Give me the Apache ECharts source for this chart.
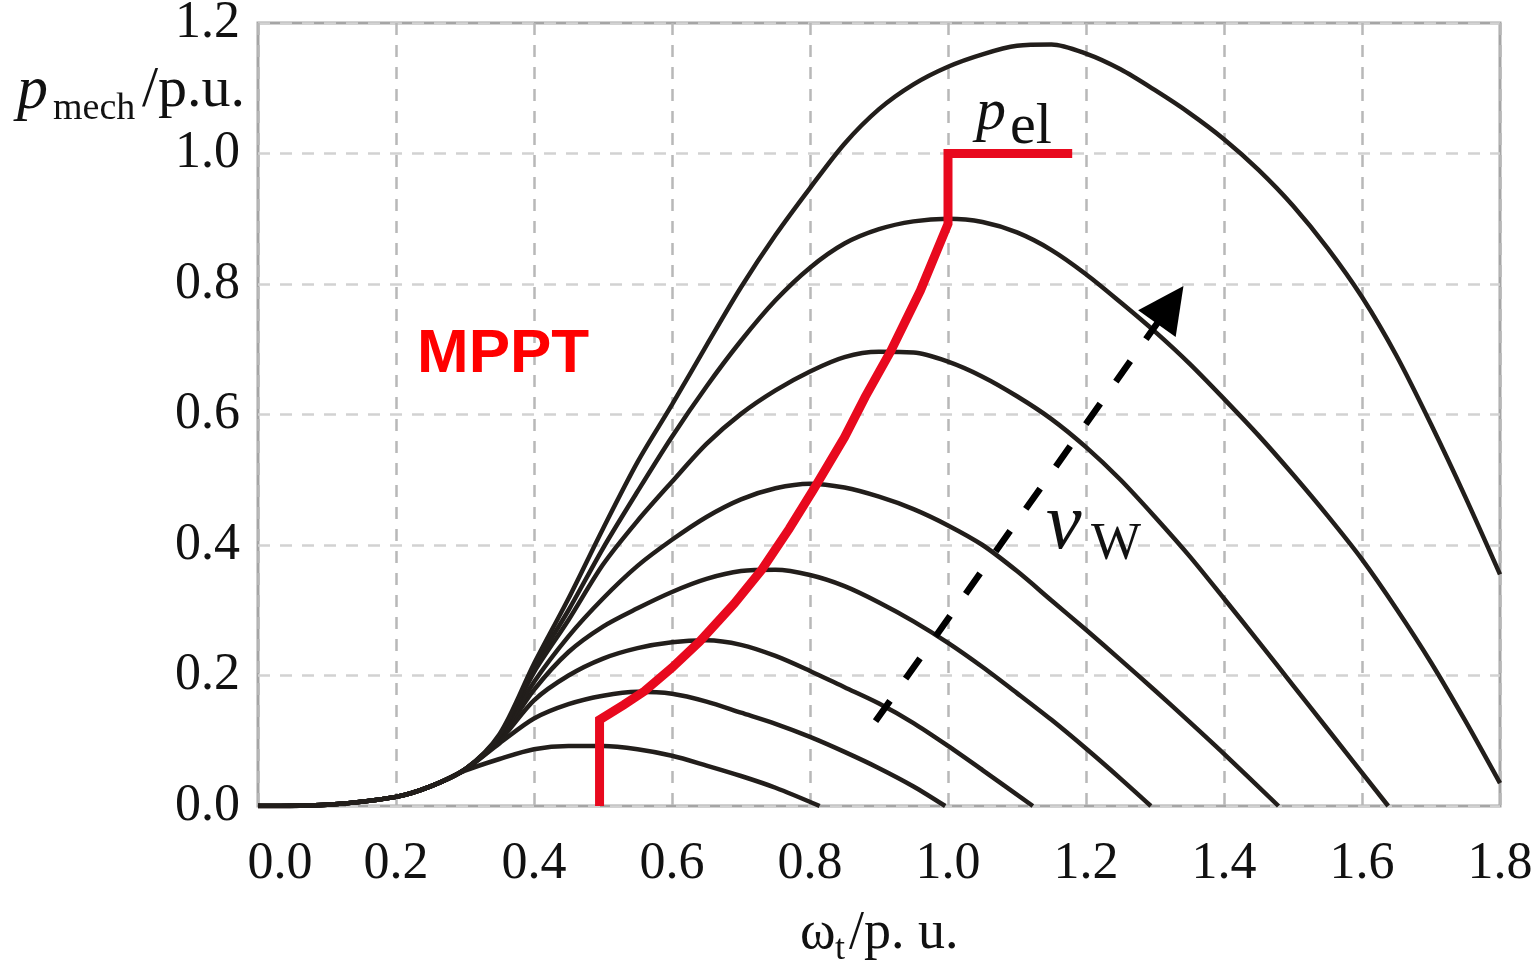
<!DOCTYPE html>
<html>
<head>
<meta charset="utf-8">
<title>MPPT</title>
<script src="https://cdn.jsdelivr.net/npm/echarts@6/dist/echarts.min.js"></script>
<style>
html, body { margin: 0; padding: 0; background: #fff; }
#chart { width: 1535px; height: 965px; }
</style>
</head>
<body>
<div id="chart"></div>
<script>
// p_mech over omega_t, one curve per wind speed (lowest to highest)
const pMech1 = [[0,0],[0.1,0.002],[0.2,0.014],[0.25,0.03],[0.3,0.054],[0.35,0.072],[0.4,0.087],[0.45,0.092],[0.5,0.092],[0.55,0.087],[0.6,0.077],[0.65,0.062],[0.7,0.046],[0.75,0.028],[0.814,0]]
const pMech2 = [[0,0],[0.1,0.002],[0.2,0.014],[0.25,0.03],[0.3,0.056],[0.35,0.096],[0.4,0.134],[0.45,0.156],[0.5,0.169],[0.55,0.175],[0.6,0.172],[0.65,0.16],[0.7,0.143],[0.75,0.126],[0.8,0.106],[0.85,0.083],[0.9,0.058],[0.95,0.03],[0.996,0]]
const pMech3 = [[0,0],[0.1,0.002],[0.2,0.014],[0.25,0.03],[0.3,0.056],[0.35,0.1],[0.4,0.162],[0.45,0.2],[0.5,0.226],[0.55,0.242],[0.6,0.251],[0.65,0.254],[0.7,0.247],[0.75,0.23],[0.8,0.207],[0.85,0.182],[0.9,0.157],[0.95,0.127],[1.0,0.092],[1.05,0.055],[1.123,0]]
const pMech4 = [[0,0],[0.1,0.002],[0.2,0.014],[0.25,0.03],[0.3,0.056],[0.35,0.103],[0.4,0.178],[0.45,0.236],[0.5,0.275],[0.55,0.303],[0.6,0.328],[0.65,0.348],[0.7,0.36],[0.75,0.362],[0.8,0.354],[0.85,0.337],[0.9,0.312],[0.95,0.283],[1.0,0.25],[1.05,0.213],[1.1,0.173],[1.15,0.132],[1.2,0.088],[1.25,0.042],[1.294,0]]
const pMech5 = [[0,0],[0.1,0.002],[0.2,0.014],[0.25,0.03],[0.3,0.056],[0.35,0.105],[0.4,0.19],[0.45,0.26],[0.5,0.318],[0.55,0.368],[0.6,0.408],[0.65,0.443],[0.7,0.47],[0.75,0.487],[0.8,0.494],[0.85,0.488],[0.9,0.474],[0.95,0.455],[1.0,0.43],[1.05,0.4],[1.1,0.36],[1.15,0.315],[1.2,0.27],[1.25,0.224],[1.3,0.177],[1.35,0.129],[1.4,0.08],[1.479,0]]
const pMech6 = [[0,0],[0.1,0.002],[0.2,0.014],[0.25,0.03],[0.3,0.056],[0.35,0.107],[0.4,0.205],[0.45,0.285],[0.5,0.37],[0.55,0.437],[0.6,0.497],[0.65,0.555],[0.7,0.601],[0.75,0.637],[0.8,0.666],[0.85,0.688],[0.9,0.696],[0.95,0.695],[1.0,0.681],[1.05,0.658],[1.1,0.628],[1.15,0.593],[1.2,0.55],[1.25,0.5],[1.3,0.443],[1.35,0.383],[1.4,0.318],[1.45,0.252],[1.5,0.185],[1.55,0.118],[1.638,0]]
const pMech7 = [[0,0],[0.1,0.002],[0.2,0.014],[0.25,0.03],[0.3,0.056],[0.35,0.108],[0.4,0.212],[0.45,0.3],[0.5,0.395],[0.55,0.482],[0.6,0.566],[0.65,0.643],[0.7,0.713],[0.75,0.775],[0.8,0.825],[0.85,0.862],[0.9,0.884],[0.95,0.896],[1.0,0.9],[1.05,0.895],[1.1,0.879],[1.15,0.852],[1.2,0.815],[1.25,0.772],[1.3,0.727],[1.35,0.678],[1.4,0.624],[1.45,0.568],[1.5,0.508],[1.55,0.445],[1.6,0.378],[1.65,0.302],[1.7,0.22],[1.75,0.13],[1.8,0.035]]
const pMech8 = [[0,0],[0.1,0.002],[0.2,0.014],[0.25,0.03],[0.3,0.056],[0.35,0.11],[0.4,0.218],[0.45,0.318],[0.5,0.425],[0.55,0.527],[0.6,0.615],[0.65,0.706],[0.7,0.795],[0.75,0.875],[0.8,0.947],[0.85,1.015],[0.9,1.068],[0.95,1.106],[1.0,1.133],[1.05,1.152],[1.1,1.165],[1.15,1.167],[1.2,1.153],[1.25,1.129],[1.3,1.097],[1.35,1.062],[1.4,1.022],[1.45,0.975],[1.5,0.92],[1.55,0.855],[1.6,0.78],[1.65,0.69],[1.7,0.585],[1.75,0.473],[1.8,0.355]]

// red MPPT track, then rated power p_el
const mpptTrack = [[0.495,0],[0.495,0.132],[0.53,0.155],[0.56,0.176],[0.6,0.212],[0.64,0.252],[0.69,0.31],[0.73,0.362],[0.77,0.425],[0.805,0.485],[0.85,0.565],[0.88,0.627],[0.917,0.697],[0.96,0.79],[1.0,0.892],[1.0,1.0],[1.18,1.0]]

// dashed arrow "wind speed rising"
const vwArrow = [[0.895,0.13],[1.322,0.768]]

const curves = [pMech1, pMech2, pMech3, pMech4, pMech5, pMech6, pMech7, pMech8]

const serif = '"Liberation Serif", "DejaVu Serif", serif'

let series = curves.map(function (d) {
    return {
        type: 'line',
        data: d,
        smooth: 0.3,
        symbol: 'none',
        silent: true,
        z: 2,
        lineStyle: { color: '#221e1b', width: 4.5 }
    }
})
series.push({
    type: 'line',
    data: mpptTrack,
    symbol: 'none',
    silent: true,
    z: 3,
    lineStyle: { color: '#e8091e', width: 9, join: 'miter', cap: 'butt' }
})
series.push({
    type: 'lines',
    coordinateSystem: 'cartesian2d',
    silent: true,
    z: 4,
    symbol: ['none', 'triangle'],
    symbolSize: [44, 46],
    data: [{ coords: vwArrow }],
    lineStyle: { color: '#000', width: 6.5, type: [25, 27], opacity: 1, cap: 'butt' }
})

function txt(x, y, text, font, color) {
    return {
        type: 'text', x: x, y: y, silent: true, z: 10,
        style: { text: text, font: font, fill: color || '#111', align: 'left', verticalAlign: 'middle', textAlign: 'left', textVerticalAlign: 'middle' }
    }
}

let option = {
    animation: false,
    backgroundColor: '#fff',
    grid: {
        left: 258, right: 35, top: 23, bottom: 159,
        show: true, borderColor: '#a5a5a5', borderWidth: 3,
        outerBoundsMode: 'none', containLabel: false
    },
    xAxis: {
        type: 'value', min: 0, max: 1.8, interval: 0.2,
        axisLine: { show: false }, axisTick: { show: false },
        splitLine: { show: true, lineStyle: { color: '#b8b8b8', width: 2.5, type: [12, 10] } },
        axisLabel: {
            margin: 32, color: '#111', fontFamily: serif, fontSize: 52,
            formatter: function (v) { return v === 0 ? '{first|0.0}' : v.toFixed(1) },
            rich: { first: { padding: [0, 0, 0, 44], color: '#111', fontFamily: serif, fontSize: 52 } }
        }
    },
    yAxis: {
        type: 'value', min: 0, max: 1.2, interval: 0.2,
        axisLine: { show: false }, axisTick: { show: false },
        splitLine: { show: true, lineStyle: { color: '#d2d2d2', width: 2.5, type: [12, 10] } },
        axisLabel: {
            margin: 18, color: '#111', fontFamily: serif, fontSize: 52,
            formatter: function (v) { return v.toFixed(1) }
        }
    },
    graphic: [
        // y axis name  p_mech/p.u.
        txt(17, 92, 'p', 'italic 62px ' + serif),
        txt(53, 109, 'mech', '38px ' + serif),
        txt(142, 91, '/p.u.', '58px ' + serif),
        // x axis name  ω_t/p. u.
        txt(800, 934, 'ω', '54px ' + serif),
        txt(835, 950, 't', '36px ' + serif),
        txt(849, 934, '/p. u.', '54px ' + serif),
        // p_el
        txt(976, 113, 'p', 'italic 60px ' + serif),
        txt(1010, 128, 'el', '58px ' + serif),
        // v_W
        txt(1046, 527, 'v', 'italic 80px ' + serif),
        txt(1091, 545, 'W', '53px ' + serif),
        // MPPT
        txt(417, 355, 'MPPT', 'bold 62px "Liberation Sans", Arial, sans-serif', '#ff0000')
    ],
    series: series
}

let myChart = echarts.init(document.getElementById('chart'))
myChart.setOption(option)
</script>
</body>
</html>
